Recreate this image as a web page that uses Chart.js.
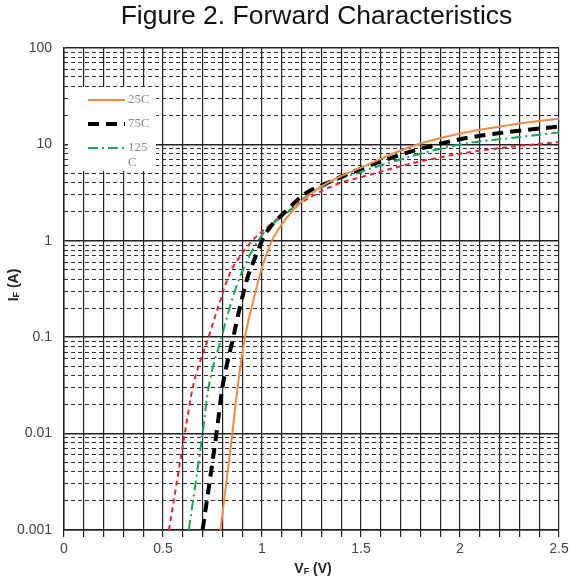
<!DOCTYPE html>
<html lang="en">
<head>
  <meta charset="UTF-8">
  <title>Figure 2. Forward Characteristics</title>
  <script src="https://cdn.jsdelivr.net/npm/chart.js@4.4.1/dist/chart.umd.min.js"></script>
  <style>
    body { margin: 0; background: #fff; }
    #wrap { width: 578px; height: 581px; position: relative; }
  </style>
</head>
<body>
  <div id="wrap"><canvas id="myChart"></canvas></div>

  <script>
    // data: forward voltage (V) and forward current (A)
    const seriesNames = ['25C', '75C', '125 C', ''];

    const vf25 = [0.79, 0.85, 0.875, 0.914, 0.956, 1.00, 1.05, 1.10, 1.15, 1.235, 1.33, 1.50, 1.75, 2.00, 2.25, 2.50];
    const if25 = [0.001, 0.01, 0.0282, 0.1, 0.24, 0.525, 1, 1.48, 2.0, 2.95, 3.98, 5.75, 9.46, 13.0, 15.85, 18.6];

    const vf75 = [0.70, 0.77, 0.80, 0.855, 0.889, 0.93, 0.956, 1.00, 1.03, 1.115, 1.22, 1.344, 1.50, 1.75, 2.00, 2.25, 2.50];
    const if75 = [0.001, 0.01, 0.03, 0.1, 0.207, 0.437, 0.6, 1, 1.29, 1.98, 3.1, 4.1, 5.6, 8.4, 11.3, 13.5, 15.3];

    const vf125 = [0.63, 0.70, 0.73, 0.796, 0.838, 0.875, 0.918, 0.98, 1.02, 1.125, 1.225, 1.36, 1.50, 1.75, 2.00, 2.25, 2.50];
    const if125 = [0.001, 0.01, 0.03, 0.1, 0.207, 0.355, 0.585, 1, 1.29, 1.95, 2.9, 4.1, 5.2, 7.5, 10, 11.6, 13.3];

    const vf150 = [0.53, 0.61, 0.65, 0.73, 0.78, 0.84, 0.90, 0.95, 1.02, 1.10, 1.25, 1.394, 1.50, 1.75, 2.00, 2.25, 2.50];
    const if150 = [0.001, 0.01, 0.03, 0.1, 0.21, 0.47, 0.74, 1, 1.35, 1.82, 2.88, 3.98, 4.57, 6.3, 8.0, 9.4, 10.6];

    const xTickLabels = [0, 0.5, 1, 1.5, 2, 2.5];
    const yTickLabels = [0.001, 0.01, 0.1, 1, 10, 100];

    const FONT = '"Liberation Sans", Arial, sans-serif';
    const GRID = '#222';

    function pts(xs, ys) {
      return xs.map((x, i) => ({ x: x, y: ys[i] }));
    }

    // decade lines plus the 2..9 lines between them
    function logTicks(scale) {
      const ticks = [];
      for (let d = 0; d < yTickLabels.length; d++) {
        const base = yTickLabels[d];
        ticks.push({ value: base, major: true });
        if (d < yTickLabels.length - 1) {
          for (let m = 2; m <= 9; m++) {
            ticks.push({ value: +(base * m).toPrecision(3), major: false });
          }
        }
      }
      scale.ticks = ticks;
    }

    function isMajorY(v) {
      return yTickLabels.some(t => Math.abs(v - t) < t * 1e-6);
    }

    const decor = {
      id: 'decor',
      afterDraw(chart) {
        const ctx = chart.ctx;
        const a = chart.chartArea;
        ctx.save();

        // title
        ctx.fillStyle = '#111';
        ctx.font = '26.5px ' + FONT;
        ctx.textAlign = 'center';
        ctx.textBaseline = 'alphabetic';
        ctx.fillText('Figure 2. Forward Characteristics', (a.left + a.right) / 2 + 5, 24);

        // axis titles with subscript F
        function subTitle(parts, cx, cy) {
          ctx.textBaseline = 'middle';
          ctx.textAlign = 'left';
          let w = 0;
          parts.forEach(p => { ctx.font = p.f; w += ctx.measureText(p.t).width; });
          let x = cx - w / 2;
          parts.forEach(p => {
            ctx.font = p.f;
            ctx.fillText(p.t, x, cy + (p.dy || 0));
            x += ctx.measureText(p.t).width;
          });
        }
        ctx.fillStyle = '#222';
        subTitle([
          { t: 'V', f: 'bold 14px ' + FONT },
          { t: 'F', f: 'bold 9px ' + FONT, dy: 3 },
          { t: ' (V)', f: 'bold 14px ' + FONT }
        ], 313, 569);

        ctx.save();
        ctx.translate(14, 285);
        ctx.rotate(-Math.PI / 2);
        subTitle([
          { t: 'I', f: 'bold 14px ' + FONT },
          { t: 'F', f: 'bold 9px ' + FONT, dy: 3 },
          { t: ' (A)', f: 'bold 14px ' + FONT }
        ], 0, 0);
        ctx.restore();

        // legend box inside the plot
        ctx.fillStyle = '#fff';
        ctx.fillRect(68, 87, 88, 84);
        const ds = chart.data.datasets;
        const rows = [100, 124, 148];
        for (let i = 0; i < 3; i++) {
          const d = ds[i];
          ctx.strokeStyle = d.borderColor;
          ctx.lineWidth = d.borderWidth;
          ctx.setLineDash(d.borderDash || []);
          ctx.beginPath();
          ctx.moveTo(88, rows[i]);
          ctx.lineTo(125, rows[i]);
          ctx.stroke();
          ctx.setLineDash([]);
          ctx.fillStyle = '#8c8c8c';
          ctx.font = '13px "Liberation Serif", "DejaVu Serif", serif';
          ctx.textAlign = 'left';
          ctx.textBaseline = 'middle';
          const words = seriesNames[i].split(' ');
          words.forEach((w, k) => ctx.fillText(w, 128, rows[i] + k * 15));
        }
        ctx.restore();
      }
    };

    new Chart('myChart', {
      type: 'line',
      data: {
        datasets: [
          {
            label: seriesNames[0],
            data: pts(vf25, if25),
            borderColor: '#F08C46',
            borderWidth: 2
          },
          {
            label: seriesNames[1],
            data: pts(vf75, if75),
            borderColor: '#000',
            borderWidth: 4,
            borderDash: [11, 7]
          },
          {
            label: seriesNames[2],
            data: pts(vf125, if125),
            borderColor: '#1BA558',
            borderWidth: 2,
            borderDash: [10, 4, 2, 4]
          },
          {
            label: seriesNames[3],
            data: pts(vf150, if150),
            borderColor: '#EE2233',
            borderWidth: 2,
            borderDash: [5, 4]
          }
        ]
      },
      options: {
        responsive: true,
        maintainAspectRatio: false,
        animation: false,
        layout: { padding: { top: 48, right: 19, left: 0, bottom: 0 } },
        elements: {
          point: { radius: 0 },
          line: { cubicInterpolationMode: 'monotone', fill: false }
        },
        plugins: {
          legend: { display: false },
          title: { display: false },
          tooltip: { enabled: false }
        },
        scales: {
          x: {
            type: 'linear',
            min: 0,
            max: 2.5,
            afterFit: s => { s.height = 51; },
            border: { color: GRID, width: 1.5 },
            grid: { color: GRID, lineWidth: 1.2, tickLength: 7, tickColor: GRID },
            ticks: {
              stepSize: 0.1,
              autoSkip: false,
              maxRotation: 0,
              padding: 4,
              color: '#444',
              font: { family: FONT, size: 14 },
              callback: v => {
                const hit = xTickLabels.find(t => Math.abs(v - t) < 1e-6);
                return hit === undefined ? '' : String(hit);
              }
            }
          },
          y: {
            type: 'logarithmic',
            position: 'left',
            min: 0.001,
            max: 100,
            afterFit: s => { s.width = 64; },
            afterBuildTicks: logTicks,
            border: { color: GRID, width: 1.5 },
            grid: {
              drawTicks: false,
              color: c => isMajorY(c.tick.value) ? GRID : 'rgba(0,0,0,0)',
              lineWidth: 1.5
            },
            ticks: {
              autoSkip: false,
              padding: 12,
              color: '#444',
              font: { family: FONT, size: 14 },
              callback: v => isMajorY(v) ? String(yTickLabels.find(t => Math.abs(v - t) < t * 1e-6)) : ''
            }
          },
          yMinor: {
            type: 'logarithmic',
            position: 'right',
            min: 0.001,
            max: 100,
            afterFit: s => { s.width = 0; },
            afterBuildTicks: logTicks,
            border: { display: false, dash: [4, 3] },
            grid: {
              drawTicks: false,
              color: c => isMajorY(c.tick.value) ? 'rgba(0,0,0,0)' : '#333',
              lineWidth: 1.1
            },
            ticks: { display: false }
          }
        }
      },
      plugins: [decor]
    });
  </script>
</body>
</html>
